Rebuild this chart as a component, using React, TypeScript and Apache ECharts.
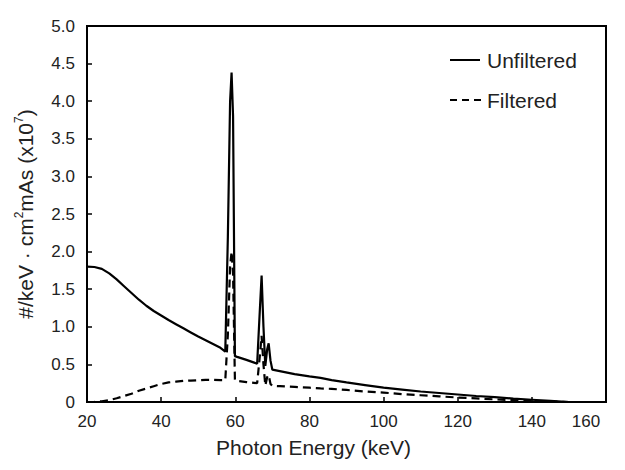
import React, { useEffect, useRef } from "react";
import * as echarts from "echarts";

const energy = [
  20, 22, 24, 26, 28, 30, 32, 34, 36, 38, 40, 42, 44, 46, 48, 50, 52, 54, 56,
  57.3, 58.0, 58.6, 59.0, 59.4, 59.9, 60.5, 63, 65.9, 66.6, 67.1, 67.6, 68.1,
  68.6, 69.0, 69.5, 70.0, 72, 76, 80, 83, 86, 90, 95, 100, 105, 110, 115, 120,
  125, 130, 135, 140, 145, 150,
];

const unfiltered = [
  1.8, 1.795, 1.77, 1.71, 1.63, 1.54, 1.45, 1.36, 1.28, 1.21, 1.15, 1.09, 1.035,
  0.98, 0.925, 0.87, 0.82, 0.77, 0.72, 0.67, 2.2, 4.0, 4.38, 3.8, 0.61, 0.6,
  0.56, 0.51, 1.2, 1.68, 1.0, 0.48, 0.7, 0.78, 0.55, 0.43, 0.41, 0.37, 0.34,
  0.32, 0.29, 0.26, 0.225, 0.19, 0.165, 0.14, 0.12, 0.1, 0.08, 0.065, 0.045,
  0.03, 0.015, 0,
];

const filtered = [
  0, 0.003, 0.01, 0.025, 0.05, 0.08, 0.11, 0.15, 0.18, 0.21, 0.24, 0.26, 0.27,
  0.28, 0.285, 0.29, 0.295, 0.295, 0.29, 0.29, 0.9, 1.8, 2.0, 1.7, 0.29, 0.28,
  0.265, 0.25, 0.6, 0.88, 0.5, 0.22, 0.33, 0.36, 0.24, 0.215, 0.21, 0.2, 0.19,
  0.18, 0.175, 0.16, 0.14, 0.125, 0.105, 0.09, 0.075, 0.06, 0.048, 0.035,
  0.025, 0.015, 0.007, 0,
];

const seriesNames = ["Unfiltered", "Filtered"];
const xTitle = "Photon Energy (keV)";
const yTitle = "#/keV · cm{sup|2}mAs (x10{sup|7})";

const FONT = "'Liberation Sans', Arial, sans-serif";
const TEXT = "#222";

export default function App() {
  const ref = useRef<HTMLDivElement>(null);

  useEffect(() => {
    if (!ref.current) return;
    const chart = echarts.init(ref.current, undefined, { renderer: "svg" });
    chart.setOption({
      animation: false,
      backgroundColor: "#fff",
      textStyle: { fontFamily: FONT, color: TEXT },
      grid: {
        left: 87,
        right: 19,
        top: 26,
        bottom: 68,
        show: true,
        borderColor: "#000",
        borderWidth: 2,
        backgroundColor: "transparent",
      },
      graphic: [
        {
          type: "line",
          shape: { x1: 450, y1: 60, x2: 480, y2: 60 },
          style: { stroke: "#000", lineWidth: 2 },
        },
        {
          type: "text",
          x: 487,
          y: 60,
          style: {
            text: seriesNames[0],
            fill: TEXT,
            font: `21px ${FONT}`,
            verticalAlign: "middle",
            align: "left",
          },
        },
        {
          type: "line",
          shape: { x1: 450, y1: 100, x2: 482, y2: 100 },
          style: { stroke: "#000", lineWidth: 2, lineDash: [7, 5] },
        },
        {
          type: "text",
          x: 487,
          y: 100,
          style: {
            text: seriesNames[1],
            fill: TEXT,
            font: `21px ${FONT}`,
            verticalAlign: "middle",
            align: "left",
          },
        },
      ],
      xAxis: {
        type: "value",
        min: 20,
        max: 160,
        interval: 20,
        name: xTitle,
        nameLocation: "middle",
        nameGap: 35,
        nameTextStyle: { fontSize: 21, color: TEXT, fontFamily: FONT, padding: [0, 66, 0, 0] },
        axisLine: { show: true, lineStyle: { color: "#000", width: 2 } },
        axisTick: { show: true, inside: true, length: 5, lineStyle: { color: "#000", width: 1.5 } },
        axisLabel: {
          fontSize: 17,
          color: TEXT,
          margin: 11,
          fontFamily: FONT,
          formatter: (v: number) => (v === 160 ? "{last|160}" : String(v)),
          rich: {
            last: { fontSize: 17, color: TEXT, fontFamily: FONT, padding: [0, 40, 0, 0] },
          },
        },
        splitLine: { show: false },
      },
      yAxis: {
        type: "value",
        min: 0,
        max: 5,
        interval: 0.5,
        name: yTitle,
        nameLocation: "middle",
        nameGap: 50,
        nameTextStyle: {
          fontSize: 21,
          color: TEXT,
          fontFamily: FONT,
          lineHeight: 24,
          rich: {
            sup: { fontSize: 12, lineHeight: 24, verticalAlign: "top", padding: [0, 0, 10, 0], color: TEXT, fontFamily: FONT },
          },
        },
        axisLine: { show: true, lineStyle: { color: "#000", width: 2 } },
        axisTick: { show: true, inside: true, length: 5, lineStyle: { color: "#000", width: 1.5 } },
        axisLabel: {
          fontSize: 17,
          color: TEXT,
          margin: 12,
          fontFamily: FONT,
          formatter: (v: number) => (v === 0 ? "0" : v.toFixed(1)),
        },
        splitLine: { show: false },
      },
      series: [
        {
          name: seriesNames[0],
          type: "line",
          symbol: "none",
          data: energy.map((e, i) => [e, unfiltered[i]]),
          lineStyle: { color: "#000", width: 2.2 },
          itemStyle: { color: "#000" },
        },
        {
          name: seriesNames[1],
          type: "line",
          symbol: "none",
          data: energy.map((e, i) => [e, filtered[i]]),
          lineStyle: { color: "#000", width: 2.2, type: [8, 5] },
          itemStyle: { color: "#000" },
        },
      ],
    });
    return () => chart.dispose();
  }, []);

  return <div ref={ref} style={{ width: 625, height: 470, marginLeft: -8, marginTop: -8 }} />;
}
